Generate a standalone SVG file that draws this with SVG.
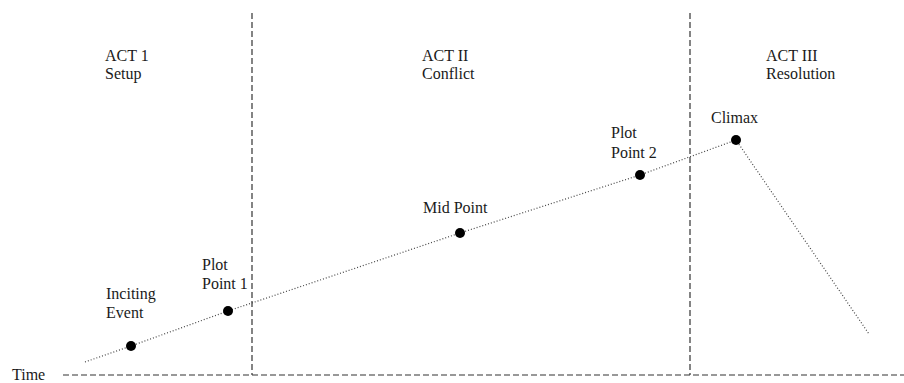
<svg xmlns="http://www.w3.org/2000/svg" width="904" height="383" viewBox="0 0 904 383">
<style>
text{font-family:"Liberation Serif","Times New Roman",serif;font-size:16px;fill:#1a1a1a}
.axis{stroke:#333;stroke-width:1.2;stroke-dasharray:6 3;fill:none}
.plot{stroke:#444;stroke-width:1.2;stroke-dasharray:1 2;fill:none}
.dot{fill:#000}
</style>
<rect width="904" height="383" fill="#fff"/>
<g id="connectors">
<line class="axis" x1="63" y1="375" x2="904" y2="375"/>
<line class="axis" x1="252" y1="13" x2="252" y2="375"/>
<line class="axis" x1="690" y1="13" x2="690" y2="375"/>
<polyline class="plot" points="85,362 131,346 228,311 460,233 640,175 736,140 869,334"/>
</g>
<g id="time"><text x="12" y="380">Time</text></g>
<g id="act1"><text x="105" y="61">ACT 1</text><text x="105" y="79">Setup</text></g>
<g id="act2"><text x="422" y="61">ACT II</text><text x="422" y="79">Conflict</text></g>
<g id="act3"><text x="766" y="61">ACT III</text><text x="766" y="79">Resolution</text></g>
<g id="inciting"><circle class="dot" cx="131" cy="346" r="5"/><text x="106" y="299">Inciting</text><text x="106" y="318">Event</text></g>
<g id="pp1"><circle class="dot" cx="228" cy="311" r="5"/><text x="202" y="270">Plot</text><text x="202" y="289">Point 1</text></g>
<g id="mid"><circle class="dot" cx="460" cy="233" r="5"/><text x="423" y="213">Mid Point</text></g>
<g id="pp2"><circle class="dot" cx="640" cy="175" r="5"/><text x="611" y="138">Plot</text><text x="611" y="158">Point 2</text></g>
<g id="climax"><circle class="dot" cx="736" cy="140" r="5"/><text x="711" y="123">Climax</text></g>
</svg>
